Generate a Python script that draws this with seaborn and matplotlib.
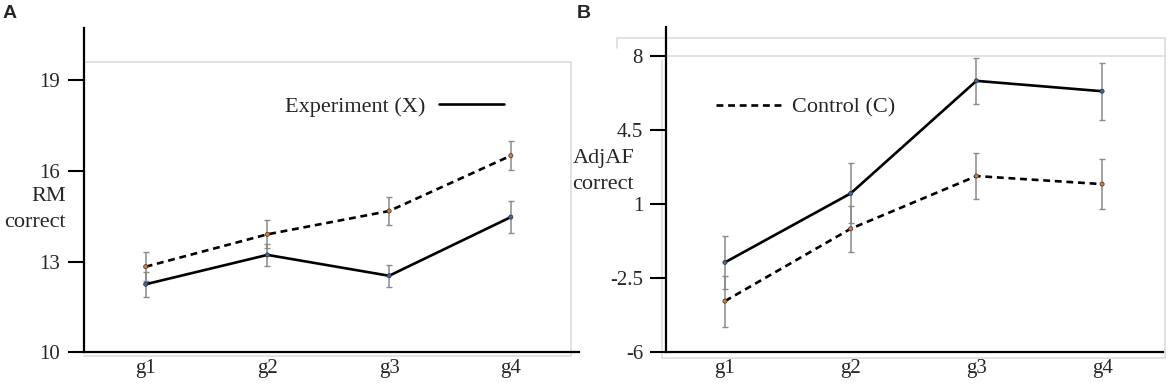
import numpy as np
import pandas as pd
import matplotlib
matplotlib.use("Agg")
import matplotlib.pyplot as plt
from matplotlib.lines import Line2D
import seaborn as sns

# ---------------- data ----------------
groups = ["g1", "g2", "g3", "g4"]

rm_exp = [12.25, 13.22, 12.53, 14.47]
rm_exp_err = [0.41, 0.36, 0.37, 0.53]
rm_ctl = [12.83, 13.90, 14.67, 16.50]
rm_ctl_err = [0.48, 0.46, 0.47, 0.47]

af_exp = [-1.75, 1.51, 6.83, 6.34]
af_exp_err = [1.26, 1.42, 1.09, 1.34]
af_ctl = [-3.58, -0.16, 2.33, 1.95]
af_ctl_err = [1.21, 1.09, 1.09, 1.17]

rm_ticks = [10, 13, 16, 19]
rm_ticklabels = ["10", "13", "16", "19"]
af_ticks = [-6, -2.5, 1, 4.5, 8]
af_ticklabels = ["-6", "-2.5", "1", "4.5", "8"]

exp_name = "Experiment (X)"
ctl_name = "Control (C)"

# ---------------- style ----------------
sns.set_theme(style="white")
plt.rcParams["font.family"] = ["Liberation Serif", "DejaVu Serif"]

W, H = 1170, 386
fig = plt.figure(figsize=(W / 100, H / 100), dpi=100)


def fx(x):
    return x / W


def fy(y):
    return 1 - y / H


def add_axes(x0, x1, ytop, ybot):
    return fig.add_axes([fx(x0), fy(ybot), fx(x1) - fx(x0), (ybot - ytop) / H])


def gray_line(x0, y0, x1, y1):
    fig.add_artist(Line2D([fx(x0), fx(x1)], [fy(y0), fy(y1)],
                          transform=fig.transFigure, color="#dadada",
                          lw=1.1, zorder=-1))


def draw(ax, exp, exp_err, ctl, ctl_err):
    df = pd.DataFrame({
        "group": groups * 2,
        "value": exp + ctl,
        "cond": [exp_name] * len(groups) + [ctl_name] * len(groups),
    })
    ax.errorbar(groups, exp, yerr=exp_err, fmt="none", ecolor="#8a8a8a",
                elinewidth=1.1, capsize=2.4, capthick=1.0, zorder=2)
    ax.errorbar(groups, ctl, yerr=ctl_err, fmt="none", ecolor="#8a8a8a",
                elinewidth=1.1, capsize=2.4, capthick=1.0, zorder=2)
    sns.lineplot(data=df, x="group", y="value", style="cond",
                 style_order=[exp_name, ctl_name],
                 dashes={exp_name: "", ctl_name: (2.6, 1.8)},
                 color="black", linewidth=1.9, legend=False, ax=ax, zorder=3)
    sns.scatterplot(data=df, x="group", y="value", hue="cond",
                    palette={exp_name: "#3d63b0", ctl_name: "#e8772e"},
                    s=9, linewidth=0.5, edgecolor="#333333", legend=False,
                    ax=ax, zorder=4)
    ax.patch.set_visible(False)
    for s in ["top", "right"]:
        ax.spines[s].set_visible(False)
    for s in ["left", "bottom"]:
        ax.spines[s].set_color("black")
        ax.spines[s].set_linewidth(1.6)
    ax.tick_params(axis="y", length=11.5, width=1.5, pad=6, labelsize=15,
                   direction="out", left=True, color="black")
    ax.tick_params(axis="x", length=0, pad=5, labelsize=15)
    ax.set_xlabel("")
    ax.grid(False)


# ---------------- panel A ----------------
axA = add_axes(84, 579, 27.7, 352.3)
draw(axA, rm_exp, rm_exp_err, rm_ctl, rm_ctl_err)
axA.set_yticks(rm_ticks)
axA.set_yticklabels(rm_ticklabels)
axA.set_ylim(10, 20.73)
axA.set_xlim(-0.507, 3.56)
axA.set_ylabel("RM\ncorrect", rotation=0, ha="right", va="center",
               fontsize=16, multialignment="right", linespacing=1.45)
axA.yaxis.set_label_coords(-0.036, 0.44)
legA = axA.legend(handles=[Line2D([], [], color="black", lw=1.9)],
                  labels=[exp_name], loc="center left", frameon=False,
                  bbox_to_anchor=(0.406, 0.756), borderpad=0, borderaxespad=0,
                  handlelength=2.95, handletextpad=0.6, markerfirst=False,
                  fontsize=16)

# ---------------- panel B ----------------
axB = add_axes(666, 1162.7, 26.7, 352.3)
draw(axB, af_exp, af_exp_err, af_ctl, af_ctl_err)
axB.set_yticks(af_ticks)
axB.set_yticklabels(af_ticklabels)
axB.set_ylim(-6, 9.39)
axB.set_xlim(-0.469, 3.482)
axB.tick_params(axis="y", pad=5)
axB.set_ylabel("AdjAF\ncorrect", rotation=0, ha="right", va="center",
               fontsize=16, multialignment="right", linespacing=1.45)
axB.yaxis.set_label_coords(-0.064, 0.555)
legB = axB.legend(handles=[Line2D([], [], color="black", lw=1.9,
                                  dashes=(2.6, 1.8))],
                  labels=[ctl_name], loc="center left", frameon=False,
                  bbox_to_anchor=(0.1007, 0.753), borderpad=0, borderaxespad=0,
                  handlelength=2.95, handletextpad=0.45, fontsize=16)

# ---------------- light frames ----------------
gray_line(86, 62, 571, 62)
gray_line(571, 62, 571, 356)
gray_line(84, 356, 571, 356)

gray_line(617, 38, 1165, 38)
gray_line(617, 38, 617, 48)
gray_line(668, 56, 1165, 56)
gray_line(1165, 38, 1165, 358)
gray_line(662, 60, 662, 358)
gray_line(662, 358, 1165, 358)

# ---------------- panel letters ----------------
fig.text(fx(3), fy(5), "A", ha="left", va="top", fontsize=14,
         fontweight="bold", family=["Liberation Sans", "DejaVu Sans"])
fig.text(fx(577), fy(5), "B", ha="left", va="top", fontsize=14,
         fontweight="bold", family=["Liberation Sans", "DejaVu Sans"])

fig.savefig("out.png", dpi=100)
